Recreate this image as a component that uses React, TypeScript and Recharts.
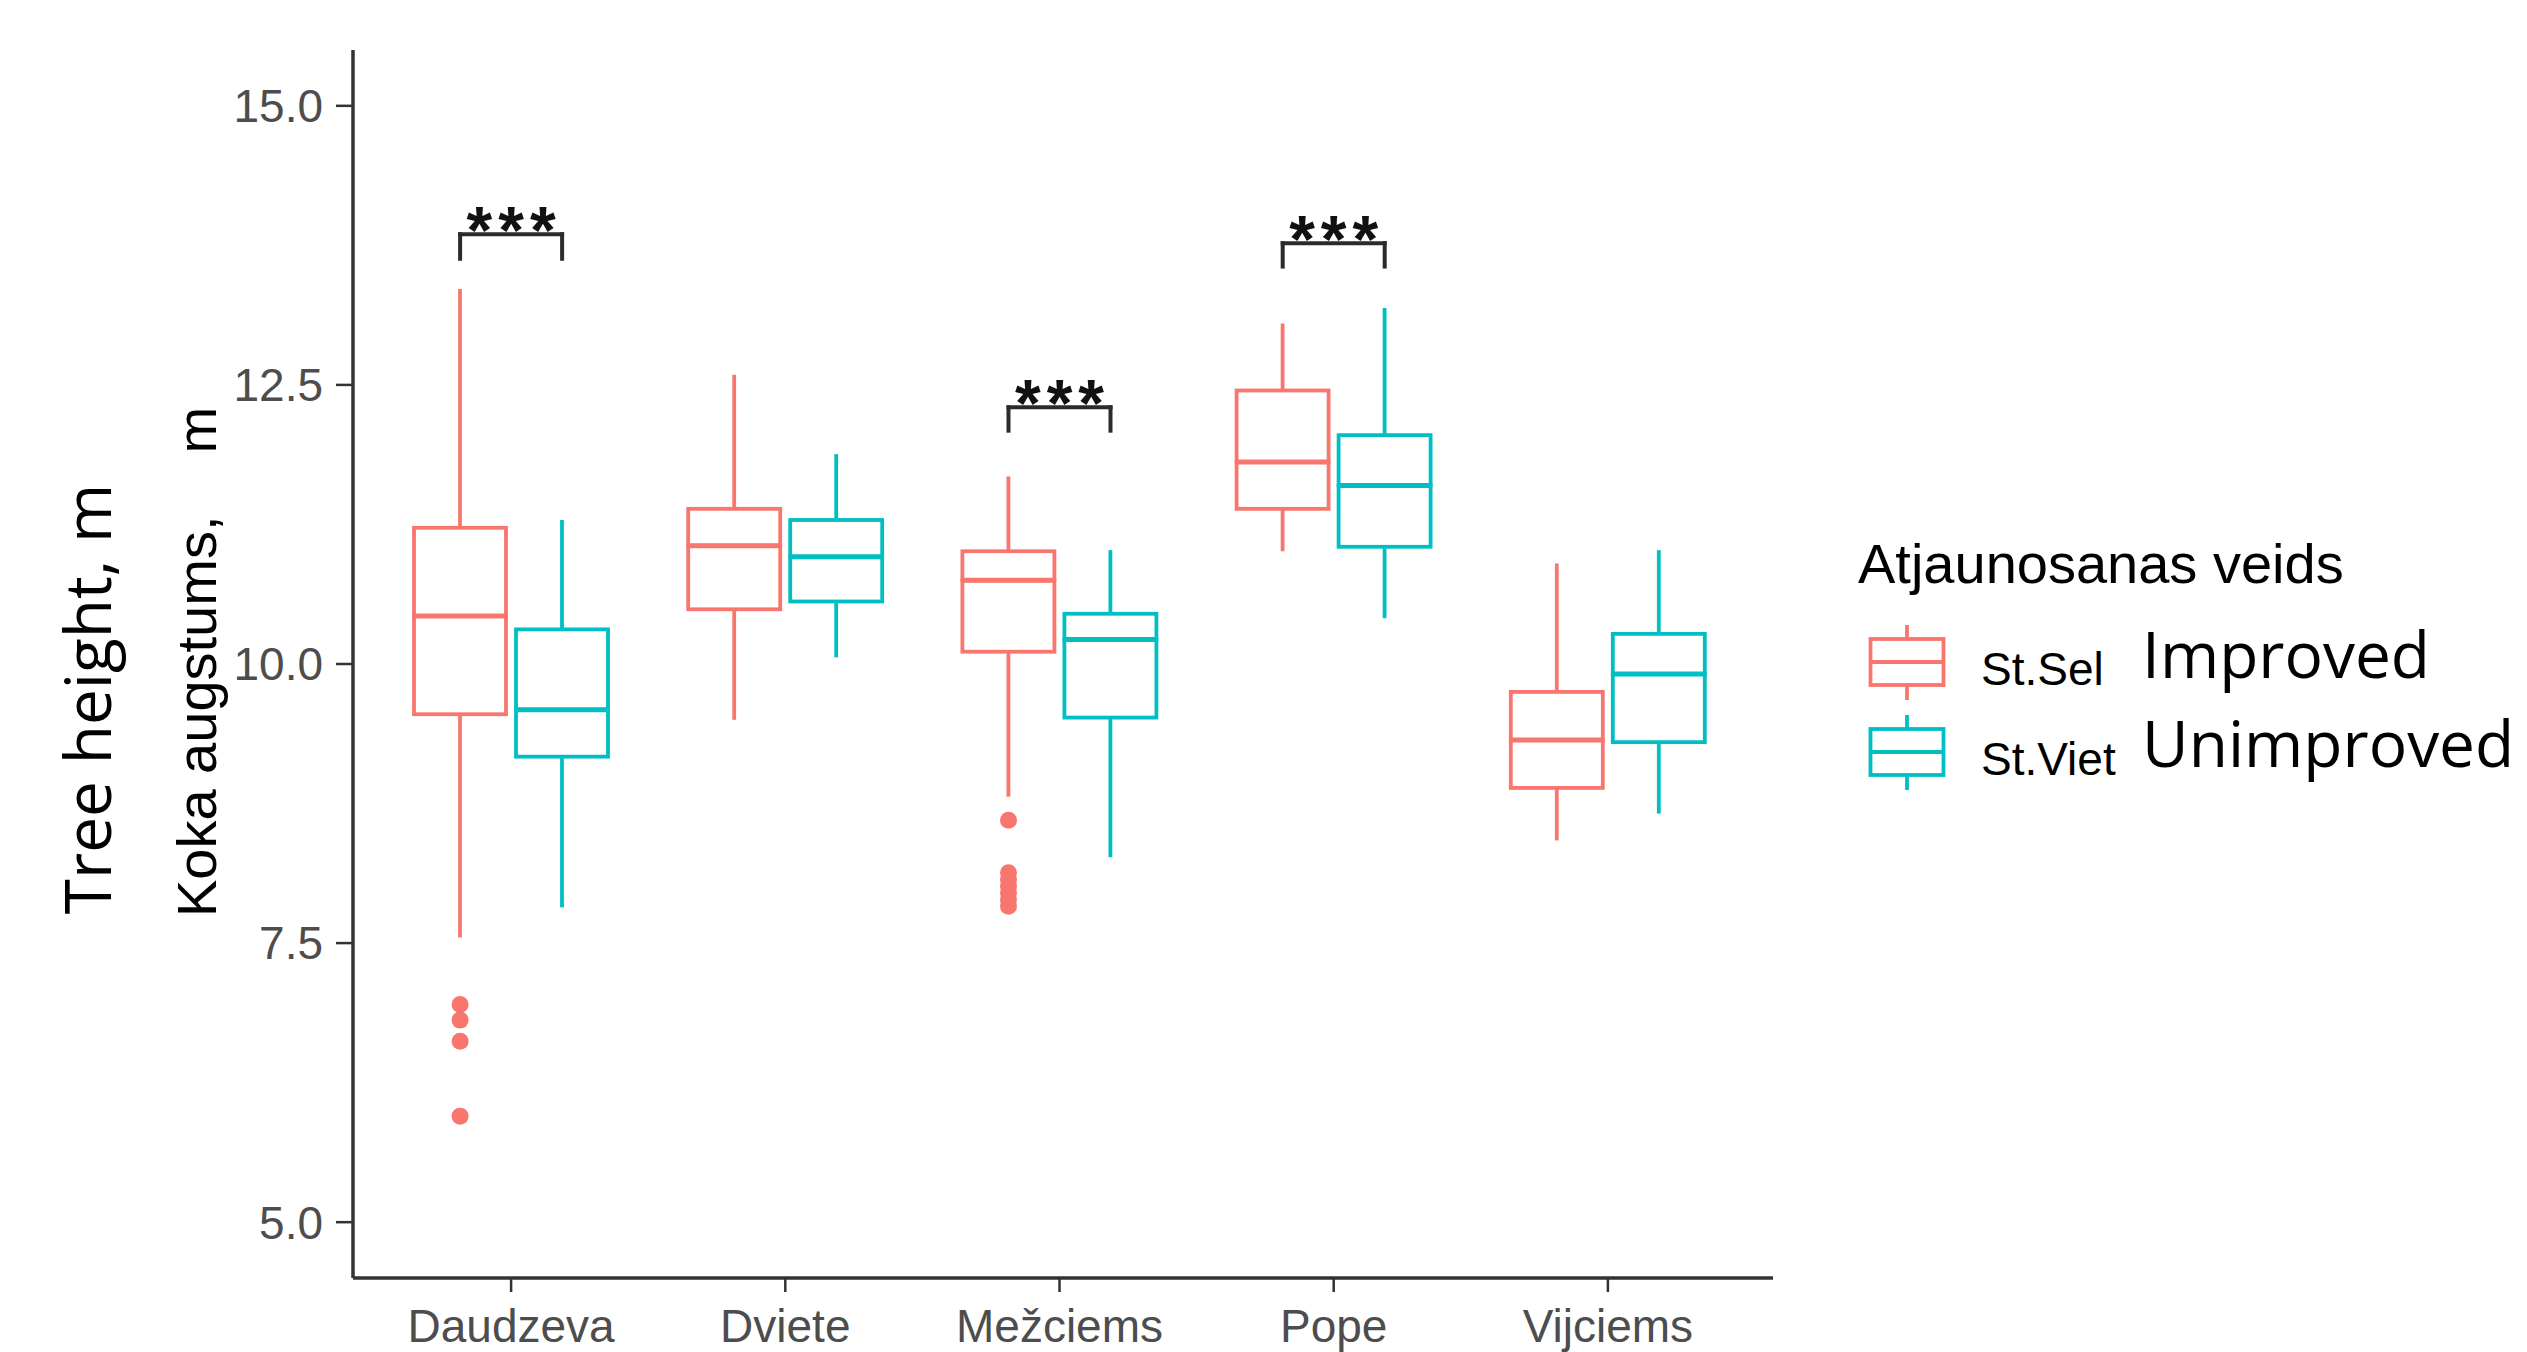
import React from 'react';
import { ComposedChart, Bar, XAxis, YAxis, Scatter, ReferenceLine, Legend } from 'recharts';

// ---------------- data ----------------
const categories = ['Daudzeva', 'Dviete', 'Mežciems', 'Pope', 'Vijciems'];
const seriesNames = ['St.Sel', 'St.Viet'];
const seriesEnglish = ['Improved', 'Unimproved'];
const seriesColors = ['#F8766D', '#00BFC4'];
const legendTitle = 'Atjaunosanas veids';

// St.Sel (improved)
const selMin = [7.55, 9.5, 8.81, 11.01, 8.42];
const selQ1 = [9.55, 10.49, 10.11, 11.39, 8.89];
const selMedian = [10.43, 11.06, 10.75, 11.81, 9.32];
const selQ3 = [11.22, 11.39, 11.01, 12.45, 9.75];
const selMax = [13.36, 12.59, 11.68, 13.05, 10.9];

// St.Viet (unimproved)
const vietMin = [7.82, 10.06, 8.27, 10.41, 8.66];
const vietQ1 = [9.17, 10.56, 9.52, 11.05, 9.3];
const vietMedian = [9.59, 10.96, 10.22, 11.6, 9.91];
const vietQ3 = [10.31, 11.29, 10.45, 12.05, 10.27];
const vietMax = [11.29, 11.88, 11.02, 13.19, 11.02];

// outliers (St.Sel only)
const outlierCategory = ['Daudzeva', 'Daudzeva', 'Daudzeva', 'Daudzeva', 'Mežciems', 'Mežciems', 'Mežciems', 'Mežciems', 'Mežciems', 'Mežciems', 'Mežciems'];
const outlierValue = [6.95, 6.81, 6.62, 5.95, 8.6, 8.13, 8.07, 8.01, 7.95, 7.89, 7.83];

// significance brackets
const sigCategory = ['Daudzeva', 'Mežciems', 'Pope'];
const sigLegBottom = [13.63, 12.09, 13.56];
const sigTop = [13.85, 12.3, 13.77];
const sigText = ['***', '***', '***'];

const yTicks = [5, 7.5, 10, 12.5, 15];
const yDomain: [number, number] = [4.5, 15.5];

const yTitle = 'Koka augstums,';
const yTitleUnit = 'm';
const yTitleEnglish = 'Tree height, m';

// ---------------- layout ----------------
const FONT = '"Liberation Sans", Arial, Helvetica, sans-serif';
const CHART_W = 2527;
const CHART_H = 1352;
const PLOT_LEFT = 353;
const PLOT_RIGHT = 1773;
const PLOT_TOP = 50;
const PLOT_BOTTOM = 1278;
const X_PAD_L = 21;
const X_PAD_R = 28;
const BAR_SIZE = 92;
const BAR_GAP = 10;
const PLOT_W = PLOT_RIGHT - PLOT_LEFT;
const BAND = (PLOT_W - X_PAD_L - X_PAD_R) / categories.length;
const NUM_DOMAIN: [number, number] = [
  1 - (X_PAD_L + BAND / 2) / BAND,
  categories.length + (X_PAD_R + BAND / 2) / BAND,
];
const DODGE = (BAR_SIZE + BAR_GAP) / 2 / BAND;
const LINE_W = 3.8;
const MEDIAN_W = 5;

const rows = categories.map((name, i) => ({
  name,
  sel0: selMin[i],
  sel1: selQ1[i] - selMin[i],
  sel2: selMedian[i] - selQ1[i],
  sel3: selQ3[i] - selMedian[i],
  sel4: selMax[i] - selQ3[i],
  viet0: vietMin[i],
  viet1: vietQ1[i] - vietMin[i],
  viet2: vietMedian[i] - vietQ1[i],
  viet3: vietQ3[i] - vietMedian[i],
  viet4: vietMax[i] - vietQ3[i],
}));

const outlierPoints = outlierValue.map((v, i) => ({
  x: categories.indexOf(outlierCategory[i]) + 1 - DODGE,
  y: v,
}));

// ---------------- shapes ----------------
const Empty = () => <g />;

const makeWhisker = (color: string) => (p: any) => {
  const cx = p.x + p.width / 2;
  return <line x1={cx} x2={cx} y1={p.y} y2={p.y + p.height} stroke={color} strokeWidth={LINE_W} />;
};

const makeLowerBox = (color: string) => (p: any) => (
  <rect x={p.x} y={p.y} width={p.width} height={p.height} fill="#fff" stroke={color} strokeWidth={LINE_W} />
);

const makeUpperBox = (color: string) => (p: any) => (
  <g>
    <rect x={p.x} y={p.y} width={p.width} height={p.height} fill="#fff" stroke={color} strokeWidth={LINE_W} />
    <line x1={p.x} x2={p.x + p.width} y1={p.y + p.height} y2={p.y + p.height} stroke={color} strokeWidth={MEDIAN_W} />
  </g>
);

const YTitles = (props: any) => {
  const vb = props.viewBox || { x: 0, y: PLOT_TOP, width: PLOT_LEFT, height: PLOT_BOTTOM - PLOT_TOP };
  const cy = vb.y + vb.height / 2;
  const kx = vb.x + 196;
  const tx = vb.x + 86;
  const ty = cy + 35;
  return (
    <g>
      <text
        x={kx}
        y={cy - 2}
        transform={`rotate(-90 ${kx} ${cy - 2})`}
        textAnchor="middle"
        dominantBaseline="central"
        fontFamily={FONT}
        fontSize={56}
        fill="#000"
      >
        {yTitle}
        <tspan dx={62}>{yTitleUnit}</tspan>
      </text>
      <text
        x={tx}
        y={ty}
        transform={`rotate(-90 ${tx} ${ty})`}
        textAnchor="middle"
        dominantBaseline="central"
        fontFamily='"Open Sans", "Noto Sans", sans-serif'
        fontSize={64}
        fill="#000"
      >
        {yTitleEnglish}
      </text>
    </g>
  );
};

const StarsLabel = (text: string) => (props: any) => {
  const vb = props.viewBox || { x: 0, y: 0, width: 0 };
  return (
    <text
      x={vb.x + (vb.width || 0) / 2 + 3}
      y={vb.y + 19}
      textAnchor="middle"
      fontFamily={FONT}
      fontSize={66}
      fontWeight={700}
      letterSpacing={6}
      fill="#111"
    >
      {text}
    </text>
  );
};

const LEG_LEFT = 1827;
const LEG_TOP = 500;

const LegendContent = () => (
  <svg width={700} height={300} style={{ overflow: 'visible', display: 'block' }}>
    <text x={31} y={83} fontFamily={FONT} fontSize={56} fill="#000">
      {legendTitle}
    </text>
    {seriesNames.map((name, i) => {
      const cy = 162 + i * 90;
      const cx = 80;
      const color = seriesColors[i];
      return (
        <g key={name}>
          <line x1={cx} x2={cx} y1={cy - 37} y2={cy + 38} stroke={color} strokeWidth={LINE_W} />
          <rect x={cx - 36.5} y={cy - 23} width={73} height={46} fill="#fff" stroke={color} strokeWidth={LINE_W} />
          <line x1={cx - 36.5} x2={cx + 36.5} y1={cy} y2={cy} stroke={color} strokeWidth={LINE_W} />
          <text x={154} y={185 - 162 + cy} fontFamily={FONT} fontSize={46} fill="#000">
            {name}
          </text>
          <text x={315} y={178 - 162 + cy - i * 1} fontFamily='"Open Sans", "Noto Sans", sans-serif' fontSize={64} fill="#000">
            {seriesEnglish[i]}
          </text>
        </g>
      );
    })}
  </svg>
);

const axisLine = { stroke: '#333', strokeWidth: 3.5 };
const tickLine = { stroke: '#333', strokeWidth: 2.5 };

export default function App() {
  return (
    <div style={{ position: 'absolute', left: 0, top: 0, width: CHART_W, height: CHART_H, background: '#fff' }}>
      <ComposedChart
        width={CHART_W}
        height={CHART_H}
        data={rows}
        margin={{ top: PLOT_TOP, right: CHART_W - PLOT_RIGHT, bottom: 0, left: 0 }}
        barSize={BAR_SIZE}
        barGap={BAR_GAP}
      >
        <XAxis
          xAxisId="cat"
          dataKey="name"
          type="category"
          height={CHART_H - PLOT_BOTTOM}
          padding={{ left: X_PAD_L, right: X_PAD_R }}
          axisLine={axisLine}
          tickLine={tickLine}
          tickSize={14}
          tickMargin={17}
          tick={{ fill: '#4d4d4d', fontSize: 46, fontFamily: FONT }}
          interval={0}
        />
        <XAxis xAxisId="num" dataKey="x" type="number" domain={NUM_DOMAIN} allowDataOverflow hide />
        <YAxis
          width={PLOT_LEFT}
          domain={yDomain}
          ticks={yTicks}
          allowDataOverflow
          tickFormatter={(v: number) => v.toFixed(1)}
          axisLine={axisLine}
          tickLine={tickLine}
          tickSize={17}
          tickMargin={13}
          tick={{ fill: '#4d4d4d', fontSize: 46, fontFamily: FONT }}
          label={<YTitles />}
        />

        {/* St.Sel boxes */}
        <Bar xAxisId="cat" dataKey="sel0" stackId="sel" shape={Empty} isAnimationActive={false} legendType="none" />
        <Bar xAxisId="cat" dataKey="sel1" stackId="sel" shape={makeWhisker(seriesColors[0])} isAnimationActive={false} legendType="none" />
        <Bar xAxisId="cat" dataKey="sel2" stackId="sel" shape={makeLowerBox(seriesColors[0])} isAnimationActive={false} legendType="none" />
        <Bar xAxisId="cat" dataKey="sel3" stackId="sel" shape={makeUpperBox(seriesColors[0])} isAnimationActive={false} legendType="none" />
        <Bar xAxisId="cat" dataKey="sel4" stackId="sel" shape={makeWhisker(seriesColors[0])} isAnimationActive={false} legendType="none" />

        {/* St.Viet boxes */}
        <Bar xAxisId="cat" dataKey="viet0" stackId="viet" shape={Empty} isAnimationActive={false} legendType="none" />
        <Bar xAxisId="cat" dataKey="viet1" stackId="viet" shape={makeWhisker(seriesColors[1])} isAnimationActive={false} legendType="none" />
        <Bar xAxisId="cat" dataKey="viet2" stackId="viet" shape={makeLowerBox(seriesColors[1])} isAnimationActive={false} legendType="none" />
        <Bar xAxisId="cat" dataKey="viet3" stackId="viet" shape={makeUpperBox(seriesColors[1])} isAnimationActive={false} legendType="none" />
        <Bar xAxisId="cat" dataKey="viet4" stackId="viet" shape={makeWhisker(seriesColors[1])} isAnimationActive={false} legendType="none" />

        <Scatter
          xAxisId="num"
          data={outlierPoints}
          dataKey="y"
          fill={seriesColors[0]}
          isAnimationActive={false}
          legendType="none"
          shape={(p: any) => <circle cx={p.cx} cy={p.cy} r={8.5} fill={seriesColors[0]} />}
        />

        {sigCategory.map((c, i) => {
          const xi = categories.indexOf(c) + 1;
          const xl = xi - DODGE;
          const xr = xi + DODGE;
          const common = { xAxisId: 'num', stroke: '#2b2b2b', strokeWidth: 4, ifOverflow: 'visible' as const, strokeLinecap: 'square' as const };
          return [
            <ReferenceLine key={`l${i}`} {...common} segment={[{ x: xl, y: sigLegBottom[i] }, { x: xl, y: sigTop[i] }]} />,
            <ReferenceLine key={`r${i}`} {...common} segment={[{ x: xr, y: sigLegBottom[i] }, { x: xr, y: sigTop[i] }]} />,
            <ReferenceLine
              key={`h${i}`}
              {...common}
              segment={[{ x: xl, y: sigTop[i] }, { x: xr, y: sigTop[i] }]}
              label={StarsLabel(sigText[i])}
            />,
          ];
        })}

        <Legend
          layout="vertical"
          align="center"
          verticalAlign="middle"
          content={LegendContent}
          wrapperStyle={{ position: 'absolute', left: LEG_LEFT, top: LEG_TOP, width: 700, height: 300 }}
        />
      </ComposedChart>
    </div>
  );
}
